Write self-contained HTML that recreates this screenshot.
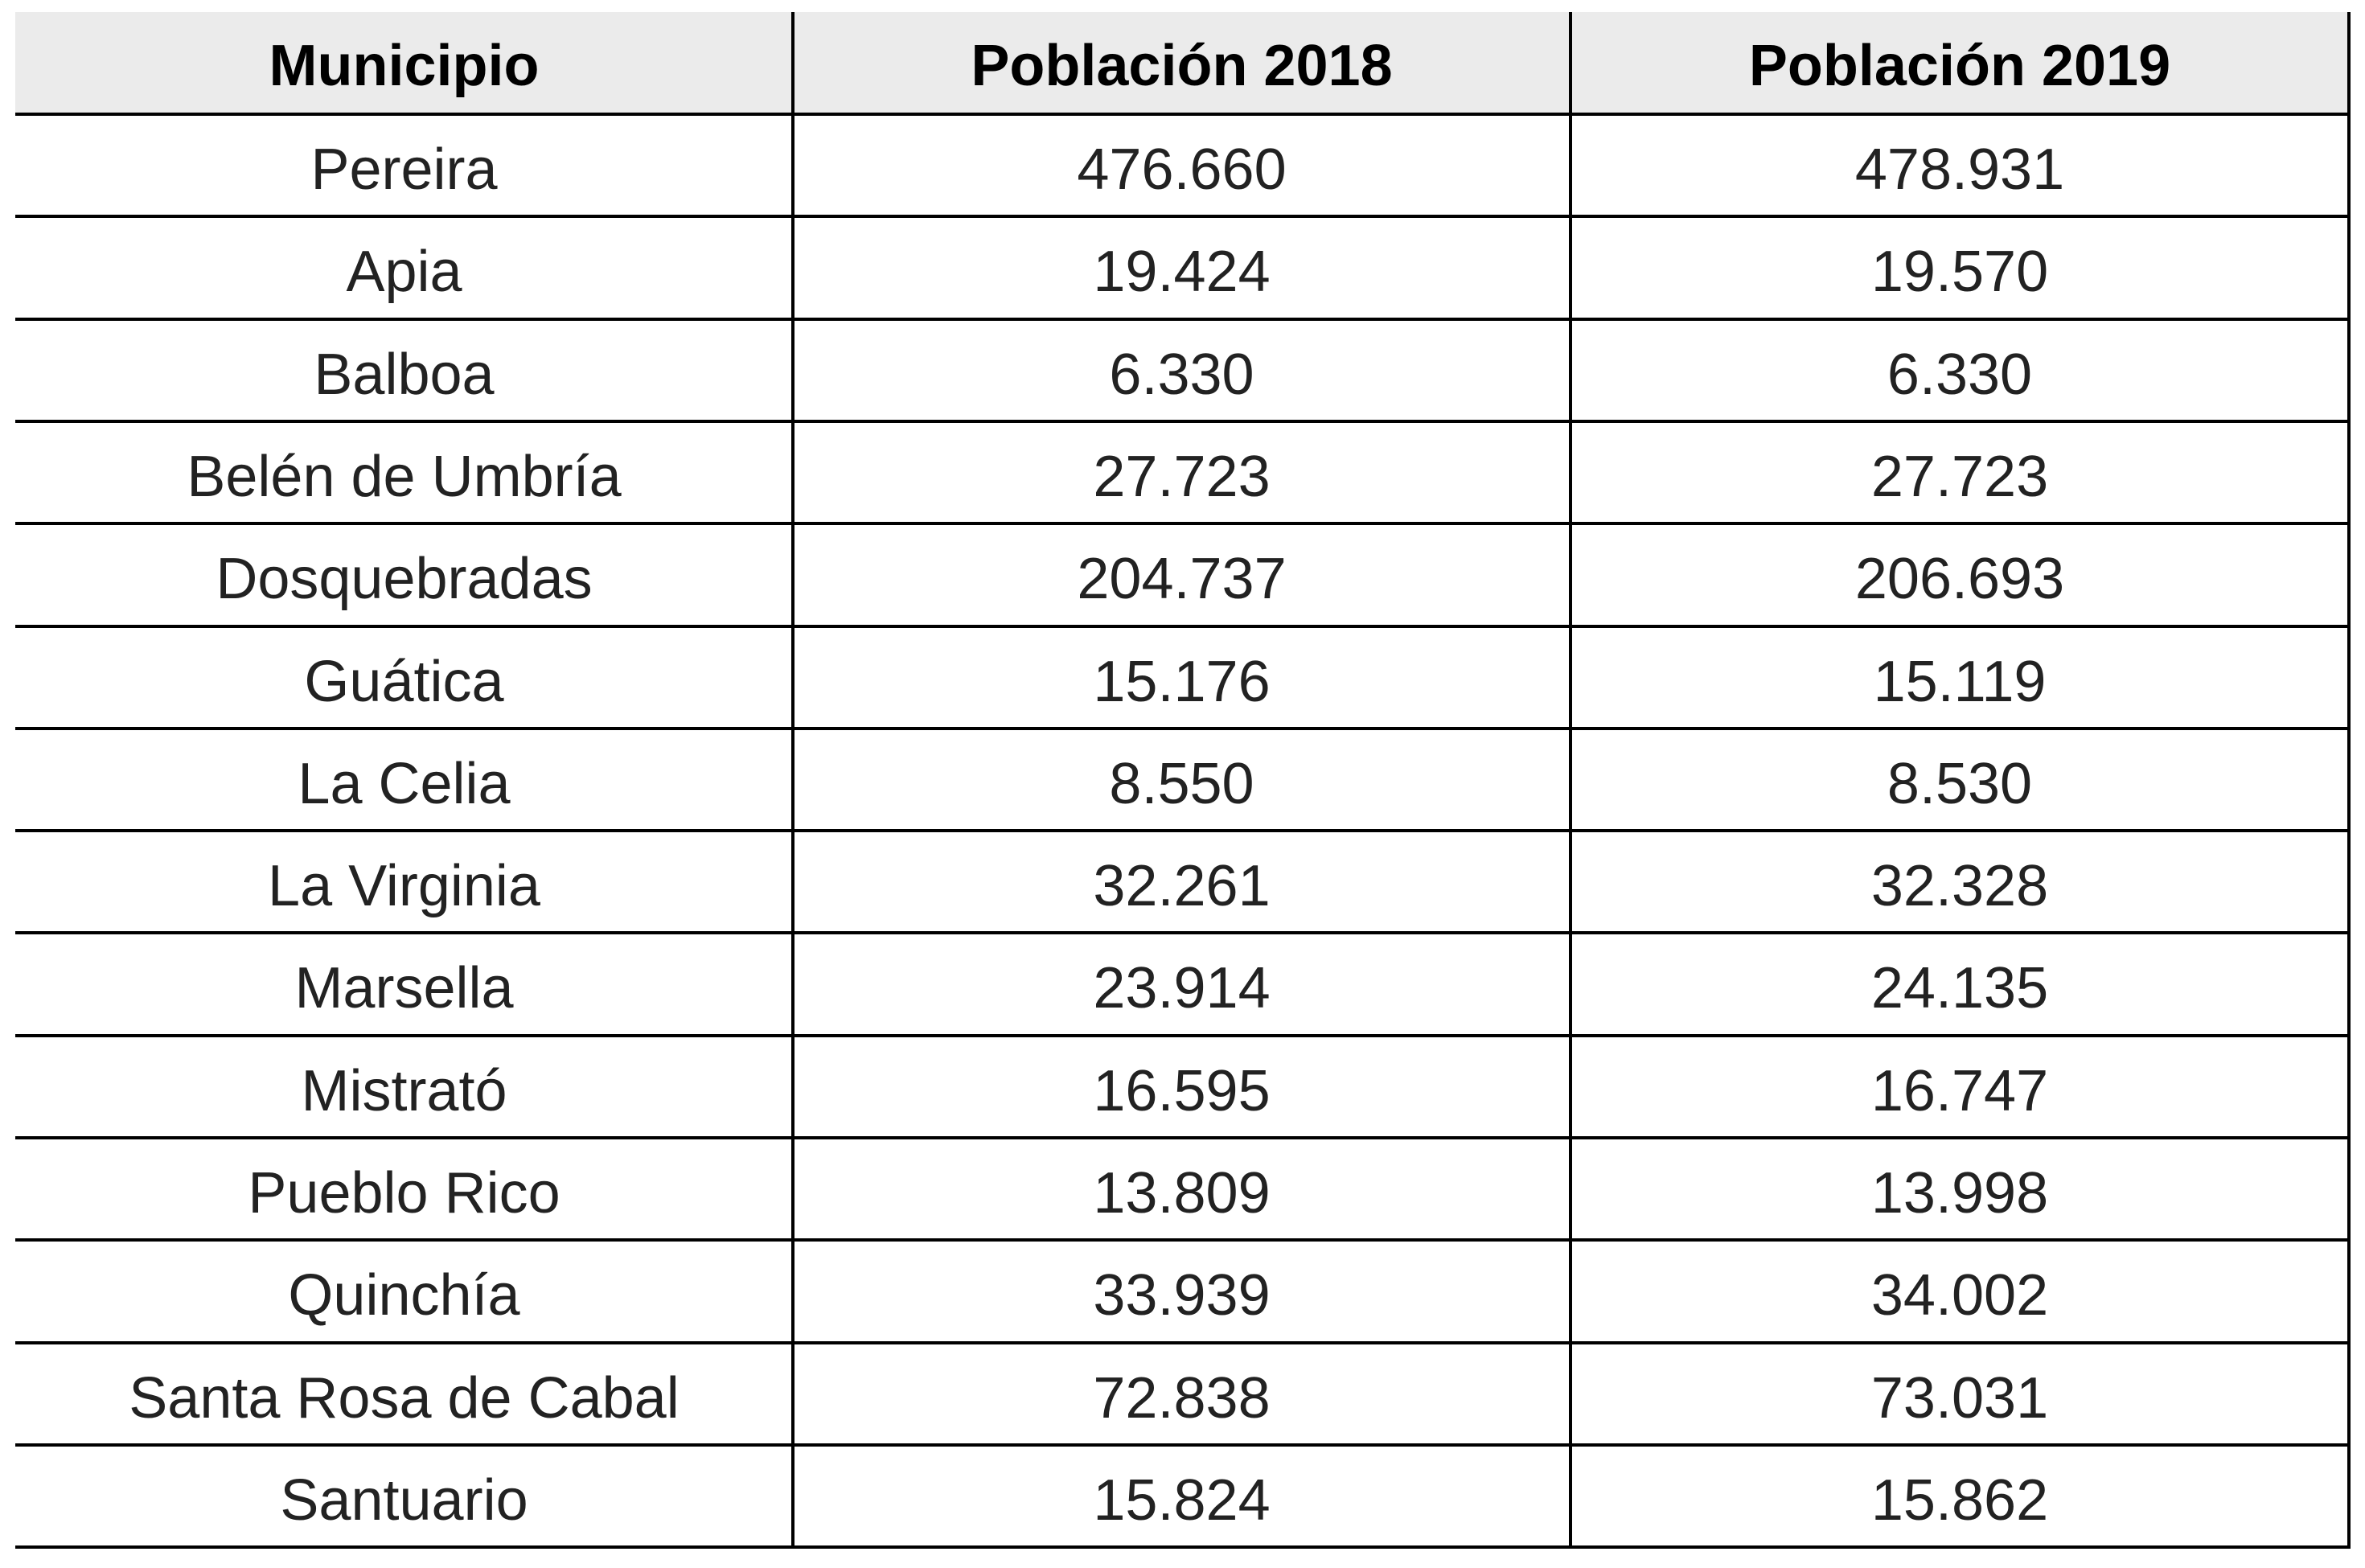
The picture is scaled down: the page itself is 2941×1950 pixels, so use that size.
<!DOCTYPE html>
<html><head><meta charset="utf-8"><style>
body{margin:0;width:2941px;height:1950px;background:#fff;position:relative;overflow:hidden;font-family:"Liberation Sans",sans-serif;}
.hdr{position:absolute;left:19px;top:15px;width:2900px;height:127px;background:#ebebeb;}
.h{position:absolute;height:4px;background:#000;left:19px;width:2902px;}
.v{position:absolute;width:4px;background:#000;top:15px;height:1911px;}
.c{position:absolute;text-align:center;font-size:72px;color:#222;line-height:127px;height:127px;white-space:nowrap;}
.b{font-weight:bold;color:#000;}
</style></head><body>
<div class="hdr"></div>
<div id="t"></div>
<script>
const municipios=["Pereira","Apia","Balboa","Belén de Umbría","Dosquebradas","Guática","La Celia","La Virginia","Marsella","Mistrató","Pueblo Rico","Quinchía","Santa Rosa de Cabal","Santuario"];
const pop2018=["476.660","19.424","6.330","27.723","204.737","15.176","8.550","32.261","23.914","16.595","13.809","33.939","72.838","15.824"];
const pop2019=["478.931","19.570","6.330","27.723","206.693","15.119","8.530","32.328","24.135","16.747","13.998","34.002","73.031","15.862"];
const headers=["Municipio","Población 2018","Población 2019"];
const colX=[19,986,1953,2921];
const top0=15,hH=127,rH=127.3;
const t=document.getElementById('t');
function cell(txt,ci,y,cls,name){
  const d=document.createElement('div');
  d.className='c '+cls;
  d.style.left=colX[ci]+'px';d.style.width=(colX[ci+1]-colX[ci])+'px';d.style.top=y+'px';
  d.textContent=txt;
  
  
  t.appendChild(d);
}
headers.forEach((h,i)=>cell(h,i,top0+4,'b','header-'+i));
municipios.forEach((m,r)=>{
  const y=top0+hH+r*rH+6;
  cell(m,0,y,'','municipio-'+r);
  cell(pop2018[r],1,y,'','pop-2018-'+r);
  cell(pop2019[r],2,y,'','pop-2019-'+r);
});
for(let r=0;r<=municipios.length;r++){
  const l=document.createElement('div');l.className='h';
  l.style.top=(top0+hH+r*rH-2)+'px';
  
  
  t.appendChild(l);
}
[1,2,3].forEach(i=>{
  const l=document.createElement('div');l.className='v';
  l.style.left=(colX[i]-2)+'px';
  
  
  t.appendChild(l);
});
</script>
</body></html>
